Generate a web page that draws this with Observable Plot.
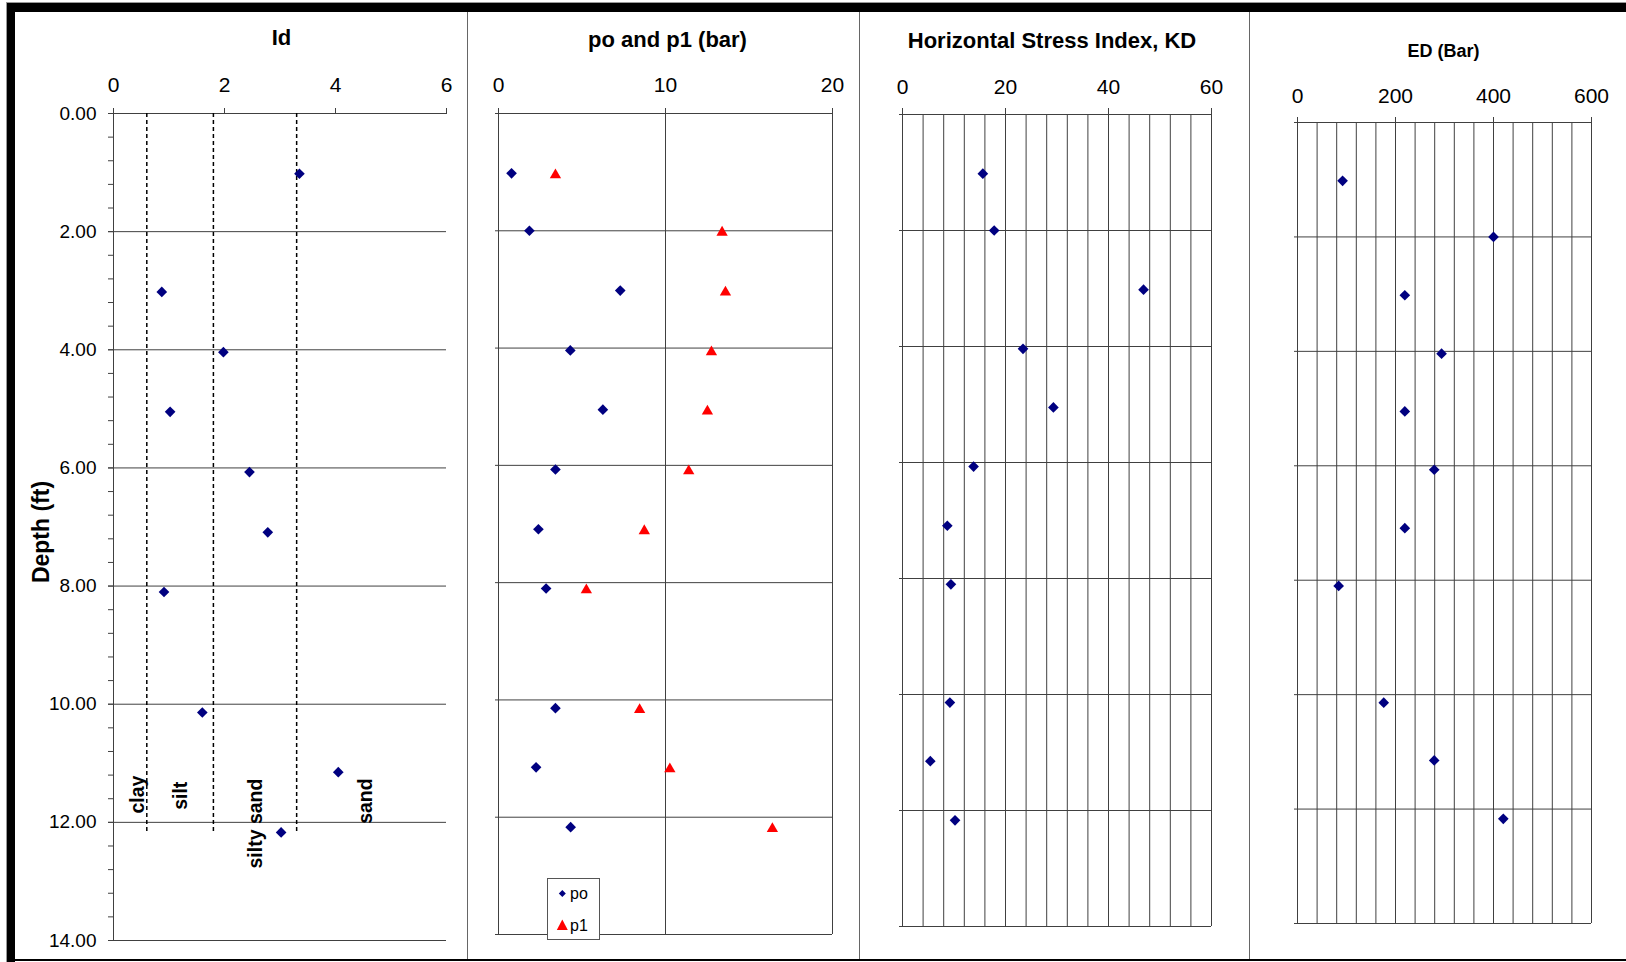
<!DOCTYPE html>
<html>
<head>
<meta charset="utf-8">
<script src="https://cdn.jsdelivr.net/npm/d3@7"></script>
<script src="https://cdn.jsdelivr.net/npm/@observablehq/plot@0.6"></script>
<style>
  body { margin: 0; background: #fff; }
  #page { position: relative; width: 1626px; height: 962px; overflow: hidden; background: #fff;
          font-family: "Liberation Sans", Arial, sans-serif; }
  .deco { position: absolute; }
</style>
</head>
<body>
<div id="page"></div>
<script>
// ---------------- data ----------------
const depth    = [1.02, 2.00, 3.02, 4.04, 5.05, 6.07, 7.09, 8.10, 10.14, 11.15, 12.17];
const idValues = [3.35, null, 0.87, 1.98, 1.02, 2.45, 2.78, 0.91, 1.60, 4.05, 3.02];
const poValues = [0.78, 1.85, 7.29, 4.30, 6.25, 3.41, 2.39, 2.85, 3.41, 2.25, 4.32];
const p1Values = [3.41, 13.39, 13.59, 12.75, 12.51, 11.39, 8.73, 5.26, 8.45, 10.26, 16.40];
const kdValues = [15.6, 17.8, 46.8, 23.4, 29.3, 13.8, 8.7, 9.4, 9.2, 5.4, 10.2];
const edValues = [92, 400, 219, 294, 219, 279, 219, 84, 176, 279, 420];

const soilBoundaries = [0.6, 1.8, 3.3];
const soilNames      = ["clay", "silt", "silty sand", "sand"];
const soilLabelId    = [0.43, 1.21, 2.57, 4.54];
const soilLabelDepth = [11.53, 11.55, 12.02, 11.64];

const depthTicks = [0, 2, 4, 6, 8, 10, 12, 14];
const idTicks = [0, 2, 4, 6];
const pTicks  = [0, 10, 20];
const kdTicks = [0, 20, 40, 60];
const edTicks = [0, 200, 400, 600];
const kdGrid  = [0, 4, 8, 12, 16, 20, 24, 28, 32, 36, 40, 44, 48, 52, 56, 60];
const edGrid  = [0, 40, 80, 120, 160, 200, 240, 280, 320, 360, 400, 440, 480, 520, 560, 600];
const minorDepthTicks = d3.range(0, 14.001, 0.4);

const titles = ["Id", "po and p1 (bar)", "Horizontal Stress Index, KD", "ED (Bar)"];
// ----------------------------------------------------------------

const rows = depth.map((d, i) => ({depth: d, id: idValues[i], po: poValues[i], p1: p1Values[i], kd: kdValues[i], ed: edValues[i]}));
const soilRows = soilNames.map((name, i) => ({name, id: soilLabelId[i], depth: soilLabelDepth[i]}));

const FONT = "'Liberation Sans', Arial, sans-serif";
const NAVY = "#000080", RED = "#ff0000", GRID = "#404040";
const page = document.getElementById("page");

function panel(pos, xDomain, marks) {
  const svg = Plot.plot({
    width: pos.width, height: pos.height,
    marginTop: pos.mt, marginRight: pos.mr, marginBottom: pos.mb, marginLeft: pos.ml,
    x: {domain: xDomain},
    y: {domain: [0, 14], reverse: true},
    style: {fontFamily: FONT, color: "#000", background: "transparent", overflow: "visible"},
    marks
  });
  svg.style.position = "absolute";
  svg.style.left = pos.left + "px";
  svg.style.top = pos.top + "px";
  svg.style.maxWidth = "none";
  page.appendChild(svg);
}

function title(text, dx, dy, size) {
  return Plot.text([text], {frameAnchor: "top", text: d => d, textAnchor: "middle", lineAnchor: "bottom",
    dx, dy, fontSize: size, fontWeight: "bold", fill: "#000"});
}
function xAxis(ticks, tickSize, tickPadding) {
  return Plot.axisX(ticks, {anchor: "top", tickSize, tickPadding, fontSize: 21, tickFormat: d => String(d), label: null, stroke: GRID});
}
function yTicksOnly(size) {
  return Plot.axisY(depthTicks, {anchor: "left", tickSize: size, tickFormat: () => "", label: null, stroke: GRID});
}

// Panel 1: Id
panel({left: 16, top: 60, width: 452, height: 900, mt: 53, mr: 22, mb: 20, ml: 97}, [0, 6], [
  Plot.ruleY(depthTicks, {stroke: GRID}),
  Plot.ruleX([0], {stroke: GRID}),
  Plot.ruleX(soilBoundaries, {y1: 0, y2: 12.2, stroke: "#000", strokeWidth: 1.5, strokeDasharray: "4,3"}),
  xAxis(idTicks, 6, 16),
  Plot.axisY(minorDepthTicks, {anchor: "left", tickSize: 5, tickFormat: () => "", label: null, stroke: GRID}),
  Plot.axisY(depthTicks, {anchor: "left", tickSize: 5, tickPadding: 12, fontSize: 19, tickFormat: d3.format(".2f"), label: null, stroke: GRID}),
  Plot.text(["Depth (ft)"], {frameAnchor: "left", text: d => d, textAnchor: "middle", lineAnchor: "middle",
    rotate: -90, dx: -72, dy: 5, fontSize: 23, fontWeight: "bold", fill: "#000"}),
  title(titles[0], 1.5, -69, 22),
  Plot.text(soilRows, {x: "id", y: "depth", text: "name", rotate: -90, textAnchor: "middle", lineAnchor: "middle",
    fontSize: 19.5, fontWeight: "bold", fill: "#000"}),
  Plot.dot(rows, {x: "id", y: "depth", symbol: "diamond2", r: 4.8, fill: NAVY, stroke: "none"})
]);

// Panel 2: po and p1
panel({left: 468, top: 60, width: 391, height: 900, mt: 53, mr: 27, mb: 26, ml: 30}, [0, 20], [
  Plot.ruleY(depthTicks, {stroke: GRID}),
  Plot.ruleX(pTicks, {stroke: GRID}),
  xAxis(pTicks, 6, 16),
  yTicksOnly(3),
  title(titles[1], 2, -67, 22),
  Plot.dot(rows, {x: "po", y: "depth", symbol: "diamond2", r: 4.8, fill: NAVY, stroke: "none"}),
  Plot.dot(rows, {x: "p1", y: "depth", symbol: "triangle", r: 4.2, dy: 1.6, fill: RED, stroke: "none"})
]);

// Panel 3: KD
panel({left: 860, top: 60, width: 389, height: 900, mt: 54, mr: 38, mb: 34, ml: 42}, [0, 60], [
  Plot.ruleY(depthTicks, {stroke: GRID}),
  Plot.ruleX(kdGrid, {stroke: GRID}),
  xAxis(kdTicks, 7, 14),
  yTicksOnly(3),
  title(titles[2], -5, -67, 22),
  Plot.dot(rows, {x: "kd", y: "depth", symbol: "diamond2", r: 4.8, fill: NAVY, stroke: "none"})
]);

// Panel 4: ED
panel({left: 1250, top: 60, width: 376, height: 900, mt: 62, mr: 35, mb: 37, ml: 47}, [0, 600], [
  Plot.ruleY(depthTicks, {stroke: GRID}),
  Plot.ruleX(edGrid, {stroke: GRID}),
  xAxis(edTicks, 6, 14),
  yTicksOnly(3),
  title(titles[3], -1, -66, 18),
  Plot.dot(rows, {x: "ed", y: "depth", symbol: "diamond2", r: 4.8, fill: NAVY, stroke: "none"})
]);

// Legend for panel 2
const legend = document.createElement("div");
legend.className = "deco";
legend.style.cssText = "left:547px;top:878px;width:53px;height:62px;background:#fff;border:1px solid #555;box-sizing:border-box;";
legend.innerHTML = `<svg width="51" height="60" style="display:block;font-family:${FONT}">
  <path d="M14.3,11 L17.8,14.5 L14.3,18 L10.8,14.5 Z" fill="${NAVY}"/>
  <text x="22" y="20" font-size="16" fill="#000">po</text>
  <path d="M14.3,40.5 L19.8,51 L8.8,51 Z" fill="${RED}"/>
  <text x="22" y="51.5" font-size="16" fill="#000">p1</text>
</svg>`;
page.appendChild(legend);

// Chart-area borders and the outer frame
function deco(css) { const d = document.createElement("div"); d.className = "deco"; d.style.cssText = css; page.appendChild(d); }
deco("left:467px;top:12px;width:1px;height:948px;background:#666;");
deco("left:859px;top:12px;width:1px;height:948px;background:#666;");
deco("left:1249px;top:12px;width:1px;height:948px;background:#666;");
deco("left:6px;top:2px;width:1620px;height:1px;background:#999;");
deco("left:6px;top:2px;width:1px;height:960px;background:#999;");
deco("left:7px;top:3px;width:1619px;height:9px;background:#000;");
deco("left:7px;top:3px;width:8px;height:959px;background:#000;");
deco("left:7px;top:959px;width:1619px;height:2px;background:#000;");
</script>
</body>
</html>
